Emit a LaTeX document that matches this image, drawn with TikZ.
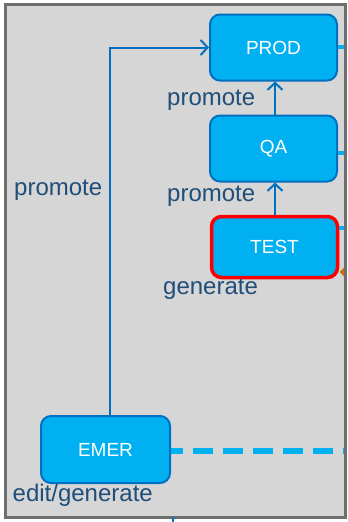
\documentclass[tikz,border=0pt]{standalone}
\usepackage{fontspec}
\setmainfont{Liberation Sans}
\usetikzlibrary{arrows.meta}
\definecolor{boxfill}{HTML}{00B0F0}
\definecolor{boxline}{HTML}{0070C0}
\definecolor{labcol}{HTML}{1F4E79}
\definecolor{framefill}{HTML}{D6D6D6}
\definecolor{frameline}{HTML}{6E6E6E}
\definecolor{orangetip}{HTML}{C5720A}
\begin{document}
\begin{tikzpicture}[x=1pt,y=-1pt,
  envbox/.style={draw=boxline, line width=2pt, fill=boxfill, rounded corners=10pt,
    minimum width=127pt, minimum height=66pt, inner sep=0pt, text=white,
    font=\fontsize{19}{22}\selectfont},
  testbox/.style={envbox, draw=red, line width=3.5pt, minimum width=126pt, minimum height=61pt},
  flow/.style={draw=boxline, line width=2pt, -{Straight Barb[length=7pt,width=15pt,line width=2pt]}},
  lab/.style={anchor=base west, inner sep=0pt, text=labcol, font=\fontsize{24}{28}\selectfont},
  stub/.style={draw=boxfill, line width=4pt}
]
\useasboundingbox (0,0) rectangle (348,522);
\fill[white] (0,0) rectangle (348,522);
\draw[frameline, line width=3pt, fill=framefill] (5.5,4.5) rectangle (345.5,517.5);

\node[envbox] (prod) at (273.5,47.5) {PROD};
\node[envbox] (qa) at (273.5,148.5) {QA};
\node[testbox] (test) at (274.5,247) {TEST};
\node[envbox, minimum width=129pt, minimum height=67pt] (emer) at (105.5,449.5) {EMER};

\coordinate (corner) at (110,47.5);
\coordinate (midx) at (275,0);
\coordinate (prodR) at (344,47);
\coordinate (qaR) at (344,153);
\coordinate (testR) at (344,228);
\coordinate (dashEnd) at (344,451);
\coordinate (tipTop) at (173,517);
\coordinate (tipBot) at (173,522);

\draw[flow] (emer.north -| corner) |- (prod.west);
\draw[flow] (test.north -| midx) -- (qa.south -| midx);
\draw[flow] (qa.north -| midx) -- (prod.south -| midx);

\draw[stub] (prod.east |- prodR) -- (prodR);
\draw[stub] (qa.east |- qaR) -- (qaR);
\draw[stub] (test.east |- testR) -- (testR);
\fill[orangetip] (339.5,272) -- (344,267.5) -- (344,276.5) -- cycle;
\draw[draw=boxfill, line width=6pt, dash pattern=on 20pt off 10pt, dash phase=8pt] (emer.east |- dashEnd) -- (dashEnd);
\draw[boxline, line width=2pt] (tipTop) -- (tipBot);

\node[lab] (l1) at (167,105) {promote};
\node[lab] (l2) at (167,201) {promote};
\node[lab] (l3) at (14,195) {promote};
\node[lab] (l4) at (163,294) {generate};
\node[lab] (l5) at (12.5,501) {edit/generate};
\end{tikzpicture}
\end{document}
